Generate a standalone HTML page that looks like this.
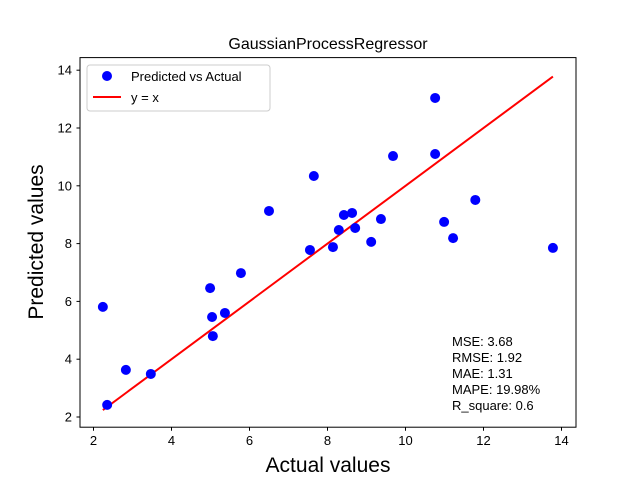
<!DOCTYPE html>
<html><head><meta charset="utf-8"><style>
body{margin:0;background:#fff;}
svg{display:block;font-family:"Liberation Sans","DejaVu Sans",sans-serif;}
</style></head><body>
<svg id="chart" width="640" height="480">
<rect x="0" y="0" width="640" height="480" fill="#fff"/>
<g id="marks"></g>
<rect x="80" y="57.6" width="496" height="369.6" fill="none" stroke="#000" stroke-width="1"/>
<g id="xticks"></g>
<g id="yticks"></g>
<text x="328" y="49" text-anchor="middle" font-size="16">GaussianProcessRegressor</text>
<text x="328" y="472" text-anchor="middle" font-size="21">Actual values</text>
<text transform="translate(43,242) rotate(-90)" text-anchor="middle" font-size="21">Predicted values</text>
<g>
<rect x="87" y="65" width="183" height="46" rx="3" fill="#fff" fill-opacity="0.8" stroke="#ccc"/>
<circle cx="107" cy="76" r="5" fill="#0000ff"/>
<text x="131" y="81" font-size="13">Predicted vs Actual</text>
<line x1="93" y1="97" x2="121" y2="97" stroke="#ff0000" stroke-width="2"/>
<text x="131" y="102" font-size="13">y = x</text>
</g>
<g font-size="13">
<text x="452" y="346">MSE: 3.68</text>
<text x="452" y="362">RMSE: 1.92</text>
<text x="452" y="378">MAE: 1.31</text>
<text x="452" y="394">MAPE: 19.98%</text>
<text x="452" y="410">R_square: 0.6</text>
</g>
</svg>
<script>
const actual=[2.24,2.35,2.83,3.47,4.99,5.04,5.06,5.37,5.78,6.50,7.55,7.65,8.14,8.29,8.42,8.63,8.71,9.12,9.37,9.68,10.76,10.76,10.99,11.22,11.79,13.78];
const predicted=[5.81,2.42,3.63,3.49,6.46,5.46,4.80,5.60,6.98,9.13,7.78,10.34,7.88,8.47,8.99,9.06,8.54,8.06,8.85,11.03,13.04,11.10,8.75,8.19,9.51,7.85];
const xTicks=[2,4,6,8,10,12,14];
const yTicks=[2,4,6,8,10,12,14];
const ns="http://www.w3.org/2000/svg";
const xs=v=>93.5+(v-2)*39;
const ys=v=>417-(v-2)*28.9;
function mk(t,a,p){const e=document.createElementNS(ns,t);for(const k in a)e.setAttribute(k,a[k]);p.appendChild(e);return e;}
const marks=document.getElementById('marks');
const mn=Math.min(...actual),mx=Math.max(...actual);
const ln=mk('line',{x1:xs(mn),y1:ys(mn),x2:xs(mx),y2:ys(mx),stroke:'#ff0000','stroke-width':2},marks);


actual.forEach((a,i)=>{
const c=mk('circle',{cx:xs(a),cy:ys(predicted[i]),r:5,fill:'#0000ff'},marks);


});
const xg=document.getElementById('xticks');
xTicks.forEach(t=>{
mk('line',{x1:xs(t),y1:427.2,x2:xs(t),y2:430.7,stroke:'#000'},xg);
const tx=mk('text',{x:xs(t),y:445,'text-anchor':'middle','font-size':13},xg);
tx.textContent=t;


});
const yg=document.getElementById('yticks');
yTicks.forEach(t=>{
mk('line',{x1:76.5,y1:ys(t),x2:80,y2:ys(t),stroke:'#000'},yg);
const tx=mk('text',{x:72,y:ys(t)+4.5,'text-anchor':'end','font-size':13},yg);
tx.textContent=t;


});
</script>
</body></html>
